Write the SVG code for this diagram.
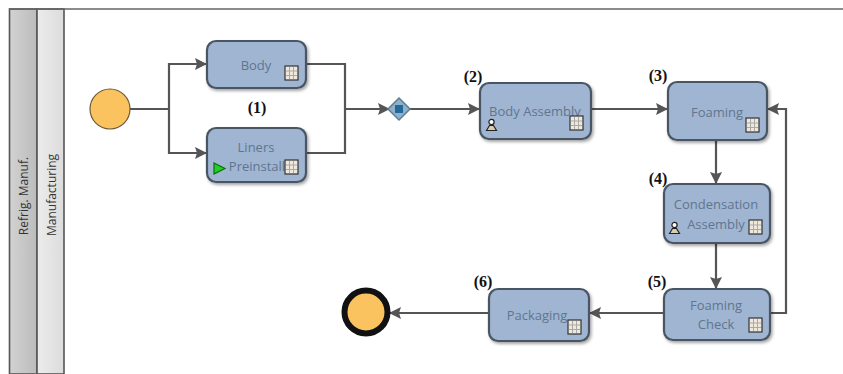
<svg xmlns="http://www.w3.org/2000/svg" width="843" height="374" viewBox="0 0 843 374">
<style>
.task{fill:#a0b5d2;stroke:#4a5563;stroke-width:2.2;filter:url(#sh)}
.t{font-family:"Open Sans","Noto Sans",sans-serif;font-size:13px;fill:#5f7590;text-anchor:middle}
.n{font-family:"Liberation Serif",serif;font-size:16px;font-weight:bold;fill:#111;text-anchor:middle}
.l{font-family:"Open Sans","Noto Sans",sans-serif;font-size:12px;fill:#333;text-anchor:middle}
.c{fill:none;stroke:#555;stroke-width:2.2;marker-end:url(#a)}
.p{fill:none;stroke:#555;stroke-width:2.2}
.lane{stroke:#555;stroke-width:1.6}
</style>
<defs>
<filter id="sh" x="-10%" y="-10%" width="125%" height="130%"><feDropShadow dx="1.5" dy="2" stdDeviation="1.5" flood-color="#000" flood-opacity=".35"/></filter>
<marker id="a" markerUnits="userSpaceOnUse" markerWidth="14" markerHeight="14" refX="12" refY="7" orient="auto"><path d="M0,1 L12,7 L0,13 L2,7 Z" fill="#555"/></marker>
<linearGradient id="p1" x1="0" x2="1" y1="0" y2="0"><stop offset="0" stop-color="#d2d2d2"/><stop offset="1" stop-color="#bcbcbc"/></linearGradient>
<linearGradient id="p2" x1="0" x2="1" y1="0" y2="0"><stop offset="0" stop-color="#ececec"/><stop offset="1" stop-color="#dcdcdc"/></linearGradient>
<g id="tbl"><rect x="0" y="0" width="13" height="14" fill="#eee9dc" stroke="#333" stroke-width="1.2"/><path d="M4.5,1V13M8.5,1V13M1,5H12M1,9.5H12" stroke="#a9a9a9" stroke-width="1" fill="none"/></g>
<g id="usr"><circle cx="5.5" cy="3" r="2.6" fill="#fff" stroke="#222" stroke-width="1.2"/><path d="M0.5,11.5 L3.5,6.5 H7.5 L10.5,11.5 Z" fill="#d9cfae" stroke="#222" stroke-width="1.2"/></g>
</defs>
<rect width="843" height="374" fill="#fff"/>
<g id="pool">
<rect x="9.5" y="9" width="27.5" height="365" fill="url(#p1)" class="lane"/>
<text class="l" transform="translate(28,196) rotate(-90)">Refrig. Manuf.</text>
</g>
<g id="lane">
<rect x="37" y="9" width="27" height="365" fill="url(#p2)" class="lane"/>
<text class="l" transform="translate(56,195) rotate(-90)">Manufacturing</text>
<path d="M9,9H843" stroke="#666" stroke-width="1.6"/>
</g>
<g id="connectors">
<path class="p" d="M130,109H169"/>
<path class="c" d="M169,109V64H207"/>
<path class="c" d="M169,109V153H207"/>
<path class="p" d="M306,64H345V153H306"/>
<path class="c" d="M345,109H390"/>
<path class="c" d="M410,109H480"/>
<path class="c" d="M591,109H668"/>
<path class="c" d="M716,140V184"/>
<path class="c" d="M716,243V289"/>
<path class="c" d="M770,313H786V109H767"/>
<path class="c" d="M664,313H589"/>
<path class="c" d="M489,313H389"/>
</g>
<g id="start"><circle cx="110" cy="109" r="20" fill="#fac35f" stroke="#6b5a38" stroke-width="1.2"/></g>
<g id="gateway"><path d="M399,98 L410,109 L399,120 L388,109 Z" fill="#8fb0c8" stroke="#5d7d95" stroke-width="1.5"/><rect x="395" y="105" width="8" height="8" fill="#1f6a99"/></g>
<g id="body"><rect class="task" x="207" y="41" width="99" height="47" rx="9"/><text class="t" x="256" y="70">Body</text><use href="#tbl" x="285" y="66"/></g>
<g id="liners"><rect class="task" x="207" y="128" width="99" height="54" rx="9"/><text class="t" x="256" y="152">Liners</text><text class="t" x="257" y="171">Preinstall</text><use href="#tbl" x="285" y="160"/><path d="M214,163 L225,168.500 L214,174 Z" fill="#1fd01f" stroke="#0c6e0c" stroke-width="1.2"/></g>
<g id="body-assembly"><rect class="task" x="480" y="83" width="111" height="56" rx="9"/><text class="t" x="535" y="116">Body Assembly</text><use href="#usr" x="486" y="119"/><use href="#tbl" x="570" y="116"/></g>
<g id="foaming"><rect class="task" x="668" y="82" width="99" height="58" rx="9"/><text class="t" x="717" y="117">Foaming</text><use href="#tbl" x="746" y="118"/></g>
<g id="condensation"><rect class="task" x="664" y="184" width="106" height="59" rx="9"/><text class="t" x="716" y="209">Condensation</text><text class="t" x="716" y="229">Assembly</text><use href="#usr" x="669" y="222"/><use href="#tbl" x="749" y="220"/></g>
<g id="foaming-check"><rect class="task" x="664" y="289" width="106" height="51" rx="9"/><text class="t" x="716" y="310">Foaming</text><text class="t" x="716" y="329">Check</text><use href="#tbl" x="749" y="318"/></g>
<g id="packaging"><rect class="task" x="489" y="289" width="100" height="52" rx="9"/><text class="t" x="537" y="320">Packaging</text><use href="#tbl" x="568" y="320"/></g>
<g id="end"><circle cx="366" cy="312" r="21.500" fill="#fac35f" stroke="#111" stroke-width="6"/></g>
<g id="labels">
<text class="n" x="257" y="113">(1)</text>
<text class="n" x="473" y="82">(2)</text>
<text class="n" x="658" y="81">(3)</text>
<text class="n" x="658" y="184">(4)</text>
<text class="n" x="657" y="287">(5)</text>
<text class="n" x="483" y="287">(6)</text>
</g>
</svg>
